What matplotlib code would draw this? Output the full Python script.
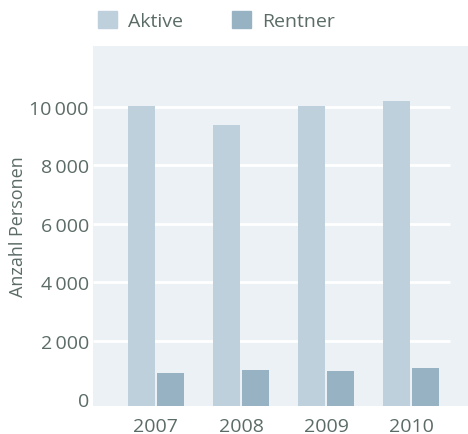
import matplotlib
matplotlib.use("Agg")
import matplotlib.pyplot as plt
from matplotlib.patches import Patch
import numpy as np

years = ["2007", "2008", "2009", "2010"]
aktive = [10030, 9390, 10030, 10200]
rentner = [890, 990, 955, 1060]
yticks = [0, 2000, 4000, 6000, 8000, 10000]

c_akt = "#bdd0dc"
c_ren = "#97b3c3"
c_bg = "#ecf1f5"
c_txt = "#5b6b67"

plt.rcParams['font.family'] = ['Open Sans', 'DejaVu Sans']

ymin, ymax = -240, 12080
xmin, xmax = -0.74, 3.67

fig = plt.figure(figsize=(4.68, 4.35), dpi=100)
ax = fig.add_axes([93/468, 28/435, 375/468, 360/435])
ax.set_facecolor(c_bg)
ax.set_xlim(xmin, xmax)
ax.set_ylim(ymin, ymax)

x = np.arange(len(years))
w = 0.32
ax.hlines(yticks[1:], xmin, 3.46, colors="white", linewidth=2, zorder=1)
ax.bar(x - 0.17, np.array(aktive) - ymin, w, bottom=ymin, color=c_akt, zorder=2)
ax.bar(x + 0.17, np.array(rentner) - ymin, w, bottom=ymin, color=c_ren, zorder=2)

for s in ax.spines.values():
    s.set_visible(False)
ax.set_xticks(x)
ax.set_xticklabels(years)
ax.set_yticks(yticks)
ax.set_yticklabels([f"{v:,}".replace(",", "\u2009") for v in yticks])
ax.tick_params(axis="both", length=0, labelsize=14, labelcolor=c_txt)
ax.tick_params(axis="y", pad=3)
ax.tick_params(axis="x", pad=8)
ax.set_ylabel("Anzahl Personen", fontsize=13, color=c_txt)
ax.yaxis.set_label_coords(-0.176, 0.5)

handles = [Patch(color=c_akt, label="Aktive"), Patch(color=c_ren, label="Rentner")]
fig.legend(handles=handles, loc="upper left", bbox_to_anchor=(80/468, 1 + 5.5/435), ncol=2,
           frameon=False, fontsize=14, labelcolor=c_txt, handlelength=1.0,
           handleheight=1.0, columnspacing=2.5, handletextpad=0.57)

fig.savefig("out.png", dpi=100)
